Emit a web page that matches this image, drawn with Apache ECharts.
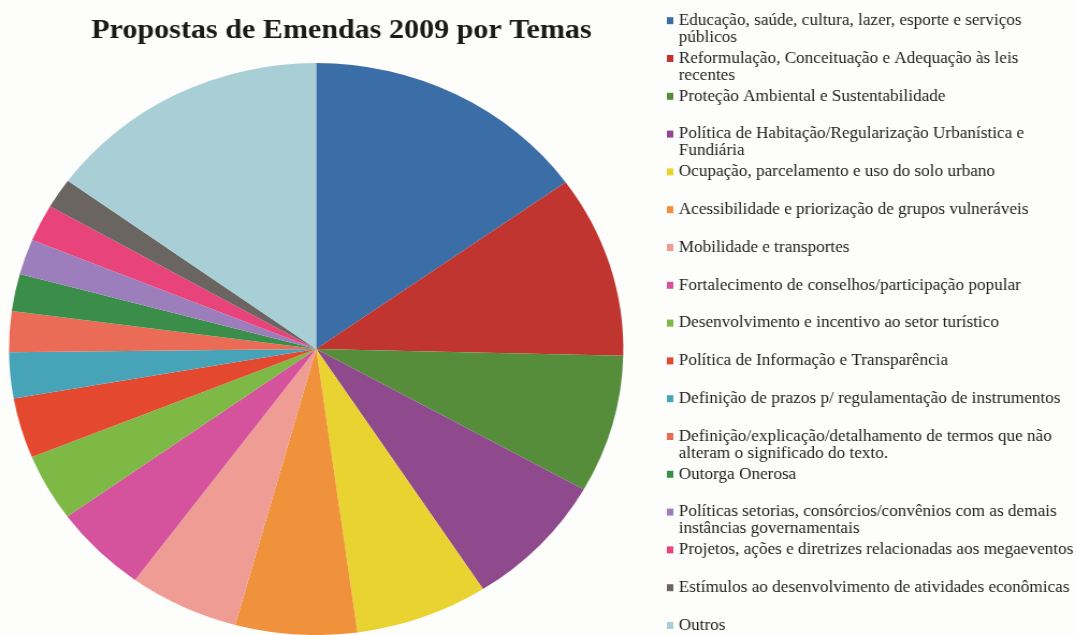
<!DOCTYPE html>
<html>
<head>
<meta charset="utf-8">
<script src="https://cdn.jsdelivr.net/npm/echarts@6/dist/echarts.min.js"></script>
<style>
  html, body { margin: 0; padding: 0; background: #fdfdfb; overflow: hidden; }
  /* the source picture is stretched ~7% wide, so the whole chart gets the same stretch */
  #main { width: 1002px; height: 635px; transform: scaleX(1.0739); transform-origin: 0 0; }
</style>
</head>
<body>
<div id="main"></div>
<script>
var temas = [
  'Educação, saúde, cultura, lazer, esporte e serviços\npúblicos',
  'Reformulação, Conceituação e Adequação às leis\nrecentes',
  'Proteção Ambiental e Sustentabilidade',
  'Política de Habitação/Regularização Urbanística e\nFundiária',
  'Ocupação, parcelamento e uso do solo urbano',
  'Acessibilidade e priorização de grupos vulneráveis',
  'Mobilidade e transportes',
  'Fortalecimento de conselhos/participação popular',
  'Desenvolvimento e incentivo ao setor turístico',
  'Política de Informação e Transparência',
  'Definição de prazos p/ regulamentação de instrumentos',
  'Definição/explicação/detalhamento de termos que não\nalteram o significado do texto.',
  'Outorga Onerosa',
  'Políticas setorias, consórcios/convênios com as demais\ninstâncias governamentais',
  'Projetos, ações e diretrizes relacionadas aos megaeventos',
  'Estímulos ao desenvolvimento de atividades econômicas',
  'Outros'
]
// share of each theme (%)
var percentuais = [15.1, 10.3, 7.8, 7.7, 7.0, 6.4, 5.8, 5.0, 3.8, 3.4, 2.6, 2.3, 2.1, 2.0, 2.1, 1.7, 15.0]
var cores = [
  '#3b6ea7', '#c0352f', '#568d3b', '#8f4a8e', '#e9d331', '#f0923b',
  '#ef9c94', '#d4539c', '#7db944', '#e4482f', '#46a3b8', '#ea6b56',
  '#3a8e49', '#9b7ebb', '#e9437b', '#6b6562', '#a9cfd6'
]

var chart = echarts.init(document.getElementById('main'))

// one legend per theme so every row sits on the same 37.8px step.
// two-line entries get an empty line in front so the square lines up with the first line
var legendas = temas.map(function (nome, i) {
  var duasLinhas = nome.indexOf('\n') >= 0
  var centro = 20.7 + i * 37.8
  return {
    data: [nome],
    orient: 'vertical',
    left: 621,
    top: centro - (duasLinhas ? 25.5 : 8.5),
    padding: 0,
    itemWidth: 6,
    itemHeight: 7,
    itemGap: 0,
    icon: 'rect',
    selectedMode: false,
    formatter: function (n) {
      return n.indexOf('\n') >= 0 ? '\n' + n : n
    },
    textStyle: {
      fontFamily: 'Liberation Serif',
      fontSize: 16,
      lineHeight: 17,
      color: '#222'
    }
  }
})

var option = {
  animation: false,
  color: cores,
  title: {
    text: 'Propostas de Emendas 2009 por Temas',
    left: 85,
    top: 17,
    padding: 0,
    textStyle: {
      fontFamily: 'Liberation Serif',
      fontWeight: 'bold',
      fontSize: 28,
      color: '#1a1a1a'
    }
  },
  legend: legendas,
  series: [
    {
      type: 'pie',
      center: [294.4, 349],
      radius: 286,
      startAngle: 90,
      clockwise: true,
      silent: true,
      label: { show: false },
      labelLine: { show: false },
      emphasis: { disabled: true },
      itemStyle: { borderWidth: 0 },
      data: temas.map(function (nome, i) {
        return { name: nome, value: percentuais[i] }
      })
    }
  ]
}
chart.setOption(option)
</script>
</body>
</html>
